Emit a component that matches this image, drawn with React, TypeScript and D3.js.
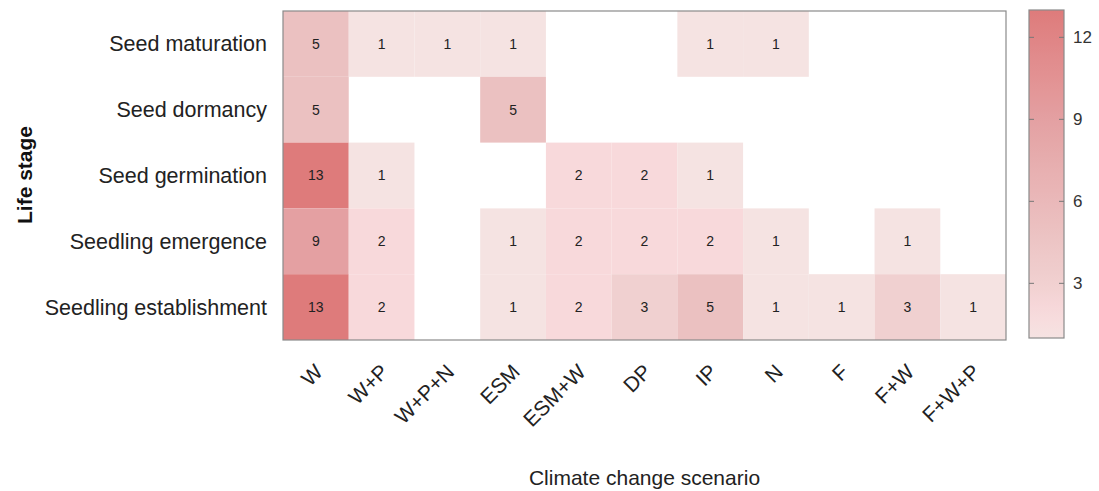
import React from "react";
import * as d3 from "d3";

const scenarios = ["W", "W+P", "W+P+N", "ESM", "ESM+W", "DP", "IP", "N", "F", "F+W", "F+W+P"];
const stages = ["Seed maturation", "Seed dormancy", "Seed germination", "Seedling emergence", "Seedling establishment"];

// counts per stage, aligned with scenarios (null = no studies)
const seedMaturation = [5, 1, 1, 1, null, null, 1, 1, null, null, null];
const seedDormancy = [5, null, null, 5, null, null, null, null, null, null, null];
const seedGermination = [13, 1, null, null, 2, 2, 1, null, null, null, null];
const seedlingEmergence = [9, 2, null, 1, 2, 2, 2, 1, null, 1, null];
const seedlingEstablishment = [13, 2, null, 1, 2, 3, 5, 1, 1, 3, 1];

const rows = [seedMaturation, seedDormancy, seedGermination, seedlingEmergence, seedlingEstablishment];
const legendTicks = [3, 6, 9, 12];

const colorStops = [1, 2, 3, 5, 9, 13];
const colorRange = ["#f5e3e2", "#f8d9db", "#f0d0d0", "#ebc1c1", "#e4a0a2", "#de7b7b"];

const W = 1099;
const H = 491;
const FONT = "'Liberation Sans', Arial, Helvetica, sans-serif";

export default function App() {
  const plot = { x0: 283, x1: 1006, y0: 11, y1: 340 };
  const x = d3.scaleBand<string>().domain(scenarios).range([plot.x0, plot.x1]).padding(0);
  const y = d3.scaleBand<string>().domain(stages).range([plot.y0, plot.y1]).padding(0);
  const color = d3.scaleLinear<string>().domain(colorStops).range(colorRange).interpolate(d3.interpolateRgb);

  const leg = { x0: 1029, x1: 1064, y0: 10, y1: 338 };
  const ly = d3.scaleLinear().domain([1, 13]).range([leg.y1, leg.y0]);
  const gradStops = d3.range(0, 1.0001, 0.05).map((t) => ({ t, v: 1 + 12 * t }));

  const cells: { s: string; c: string; v: number }[] = [];
  rows.forEach((r, i) =>
    r.forEach((v, j) => {
      if (v != null) cells.push({ s: stages[i], c: scenarios[j], v });
    })
  );

  return (
    <svg width={W} height={H} style={{ position: "absolute", left: 0, top: 0, background: "#fff" }} fontFamily={FONT}>
      <defs>
        <linearGradient id="lg" x1="0" y1="1" x2="0" y2="0">
          {gradStops.map((g) => (
            <stop key={g.t} offset={g.t} stopColor={color(g.v)} />
          ))}
        </linearGradient>
      </defs>
      {cells.map((d) => (
        <g key={d.s + d.c}>
          <rect x={x(d.c)} y={y(d.s)} width={x.bandwidth()} height={y.bandwidth()} fill={color(d.v)} />
          <text
            x={(x(d.c) as number) + x.bandwidth() / 2}
            y={(y(d.s) as number) + y.bandwidth() / 2}
            dy="0.35em"
            textAnchor="middle"
            fontSize={14}
            fill="#222"
          >
            {d.v}
          </text>
        </g>
      ))}
      <rect x={plot.x0} y={plot.y0} width={plot.x1 - plot.x0} height={plot.y1 - plot.y0} fill="none" stroke="#8a8a8a" strokeWidth={1.2} />
      {stages.map((s) => (
        <text key={s} x={267} y={(y(s) as number) + y.bandwidth() / 2} dy="0.35em" textAnchor="end" fontSize={21.5} fill="#222">
          {s}
        </text>
      ))}
      {scenarios.map((c) => {
        const ax = (x(c) as number) + x.bandwidth() / 2 + 3;
        const ay = 368;
        return (
          <text key={c} x={ax} y={ay} dy="0.35em" textAnchor="end" fontSize={21} fill="#222" transform={`rotate(-45 ${ax} ${ay})`}>
            {c}
          </text>
        );
      })}
      <text x={25} y={175} dy="0.35em" textAnchor="middle" fontSize={21} fontWeight="bold" fill="#111" transform="rotate(-90 25 175)">
        Life stage
      </text>
      <text x={(plot.x0 + plot.x1) / 2} y={478} dy="0.35em" textAnchor="middle" fontSize={21} fill="#222">
        Climate change scenario
      </text>
      <rect x={leg.x0} y={leg.y0} width={leg.x1 - leg.x0} height={leg.y1 - leg.y0} fill="url(#lg)" stroke="#8a8a8a" strokeWidth={1.2} />
      {legendTicks.map((t) => (
        <g key={t}>
          <line x1={leg.x0} x2={leg.x0 + 5} y1={ly(t)} y2={ly(t)} stroke="#777" strokeWidth={1} />
          <line x1={leg.x1 - 5} x2={leg.x1} y1={ly(t)} y2={ly(t)} stroke="#777" strokeWidth={1} />
          <text x={1073} y={ly(t)} dy="0.35em" fontSize={17} fill="#333">
            {t}
          </text>
        </g>
      ))}
    </svg>
  );
}
